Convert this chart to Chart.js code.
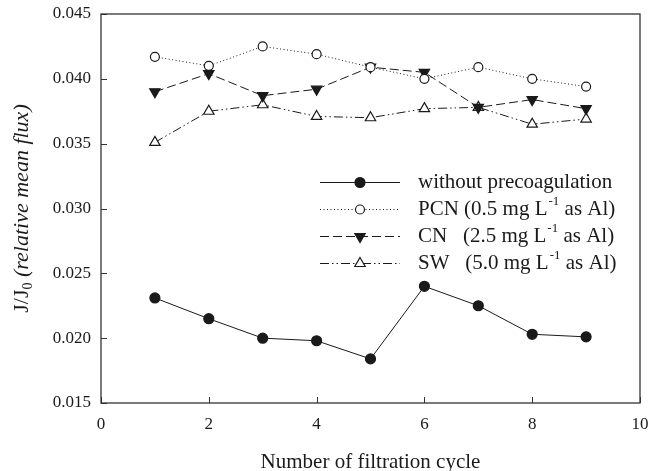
<!DOCTYPE html>
<html>
<head>
<meta charset="utf-8">
<script src="https://cdn.jsdelivr.net/npm/chart.js@4/dist/chart.umd.min.js"></script>
<style>
  html, body { margin: 0; padding: 0; background: #fff; }
  #wrap { width: 649px; height: 471px; }
</style>
</head>
<body>
<div id="wrap"><canvas id="c" width="649" height="471"></canvas></div>
<script>
// ---- data ----
const cycles = [1, 2, 3, 4, 5, 6, 7, 8, 9];
const withoutPre = [0.0231, 0.0215, 0.0200, 0.0198, 0.0184, 0.0240, 0.0225, 0.0203, 0.0201];
const pcn = [0.0417, 0.0410, 0.0425, 0.0419, 0.0409, 0.0400, 0.0409, 0.0400, 0.0394];
const cn = [0.0390, 0.0404, 0.0387, 0.0392, 0.0409, 0.0405, 0.0378, 0.0384, 0.0377];
const sw = [0.0351, 0.0375, 0.0380, 0.0371, 0.0370, 0.0377, 0.0378, 0.0365, 0.0369];
const xTicks = [0, 2, 4, 6, 8, 10];
const yTicks = [0.015, 0.020, 0.025, 0.030, 0.035, 0.040, 0.045];
const seriesNames = ["without precoagulation", "PCN (0.5 mg L", "CN   (2.5 mg L", "SW   (5.0 mg L"];

const INK = '#1a1a1a';
const SERIF = '"Liberation Serif", "Times New Roman", serif';

function pts(vals) { return cycles.map((c, i) => ({ x: c, y: vals[i] })); }

const styles = [
  { dash: [], pointStyle: 'circle', fill: INK, radius: 5, rotation: 0 },
  { dash: [1, 2.5], pointStyle: 'circle', fill: '#ffffff', radius: 4.5, rotation: 0 },
  { dash: [9, 4], pointStyle: 'triangle', fill: INK, radius: 6, rotation: 180 },
  { dash: [9, 3, 1.5, 3, 1.5, 3], pointStyle: 'triangle', fill: '#ffffff', radius: 6, rotation: 0 }
];
const seriesVals = [withoutPre, pcn, cn, sw];

const datasets = seriesVals.map((v, i) => ({
  label: seriesNames[i],
  data: pts(v),
  borderColor: INK,
  borderWidth: 1,
  borderDash: styles[i].dash,
  pointStyle: styles[i].pointStyle,
  pointRotation: styles[i].rotation,
  pointRadius: styles[i].radius,
  pointBackgroundColor: styles[i].fill,
  pointBorderColor: INK,
  pointBorderWidth: 1.2,
  tension: 0,
  fill: false
}));
datasets.forEach((d, i) => d.order = i);

const framePlugin = {
  id: 'frame',
  afterDatasetsDraw(chart) {
    const { ctx, chartArea: a, scales } = chart;
    ctx.save();
    ctx.strokeStyle = '#333';
    ctx.lineWidth = 1.3;
    ctx.setLineDash([]);
    ctx.strokeRect(a.left, a.top, a.right - a.left, a.bottom - a.top);
    ctx.lineWidth = 1;
    yTicks.forEach(v => {
      const y = Math.round(scales.y.getPixelForValue(v)) + 0.5;
      ctx.beginPath(); ctx.moveTo(a.left, y); ctx.lineTo(a.left + 6, y); ctx.stroke();
    });
    xTicks.forEach(v => {
      const x = Math.round(scales.x.getPixelForValue(v)) + 0.5;
      ctx.beginPath(); ctx.moveTo(x, a.bottom); ctx.lineTo(x, a.bottom - 6); ctx.stroke();
    });
    ctx.restore();
  }
};

const legendPlugin = {
  id: 'customLegend',
  afterDraw(chart) {
    const { ctx } = chart;
    const x0 = 320, x1 = 400, tx = 418;
    const rows = [182, 209, 236, 263];
    ctx.save();
    rows.forEach((y, i) => {
      const st = styles[i];
      ctx.strokeStyle = INK; ctx.lineWidth = 1;
      ctx.setLineDash(st.dash);
      ctx.beginPath(); ctx.moveTo(x0, y + 0.5); ctx.lineTo(x1, y + 0.5); ctx.stroke();
      ctx.setLineDash([]);
      ctx.fillStyle = st.fill; ctx.lineWidth = 1.2;
      Chart.helpers.drawPoint(ctx, { pointStyle: st.pointStyle, rotation: st.rotation, radius: st.radius, borderWidth: 1.2 }, 360, y + 0.5);
      ctx.fillStyle = INK;
      ctx.textBaseline = 'middle';
      ctx.textAlign = 'left';
      ctx.font = '21px ' + SERIF;
      let t = seriesNames[i];
      ctx.fillText(t, tx, y);
      if (i > 0) {
        let w = ctx.measureText(t).width;
        ctx.font = '13px ' + SERIF;
        ctx.fillText('-1', tx + w + 1, y - 7);
        const w2 = ctx.measureText('-1').width;
        ctx.font = '21px ' + SERIF;
        ctx.fillText(' as Al)', tx + w + w2 + 1, y);
      }
    });
    ctx.restore();
  }
};

const yTitlePlugin = {
  id: 'yTitle',
  afterDraw(chart) {
    const { ctx, chartArea: a } = chart;
    const cy = (a.top + a.bottom) / 2;
    ctx.save();
    ctx.translate(22, cy);
    ctx.rotate(-Math.PI / 2);
    ctx.fillStyle = INK;
    ctx.textBaseline = 'middle';
    ctx.textAlign = 'left';
    const f1 = '22px ' + SERIF, fs = '14px ' + SERIF, fi = 'italic 22px ' + SERIF;
    ctx.font = f1; const w1 = ctx.measureText('J/J').width;
    ctx.font = fs; const ws = ctx.measureText('0').width;
    ctx.font = fi; const wi = ctx.measureText(' (relative mean flux)').width;
    let x = -(w1 + ws + wi) / 2;
    ctx.font = f1; ctx.fillText('J/J', x, 0); x += w1;
    ctx.font = fs; ctx.fillText('0', x, 6); x += ws;
    ctx.font = fi; ctx.fillText(' (relative mean flux)', x, 0);
    ctx.restore();
  }
};

new Chart(document.getElementById('c'), {
  type: 'line',
  data: { datasets },
  options: {
    responsive: false,
    animation: false,
    devicePixelRatio: 1,
    layout: { padding: { top: 14, right: 9, left: 0, bottom: 0 } },
    plugins: { legend: { display: false }, tooltip: { enabled: false } },
    scales: {
      x: {
        type: 'linear', min: 0, max: 10,
        afterBuildTicks(s) { s.ticks = xTicks.map(v => ({ value: v })); },
        afterFit(s) { s.height = 68; s.paddingLeft = 0; s.paddingRight = 0; },
        grid: { display: false, drawTicks: false },
        border: { display: false },
        ticks: { padding: 11, color: INK, font: { family: SERIF, size: 17 } },
        title: { display: true, text: 'Number of filtration cycle', color: INK,
                 font: { family: SERIF, size: 21 }, padding: { top: 0, bottom: -4 } }
      },
      y: {
        type: 'linear', min: 0.015, max: 0.045,
        afterBuildTicks(s) { s.ticks = yTicks.map(v => ({ value: v })); },
        afterFit(s) { s.width = 101; s.paddingTop = 0; s.paddingBottom = 0; },
        grid: { display: false, drawTicks: false },
        border: { display: false },
        ticks: { padding: 10, color: INK, font: { family: SERIF, size: 17 },
                 callback: v => Number(v).toFixed(3) }
      }
    }
  },
  plugins: [framePlugin, legendPlugin, yTitlePlugin]
});
</script>
</body>
</html>
